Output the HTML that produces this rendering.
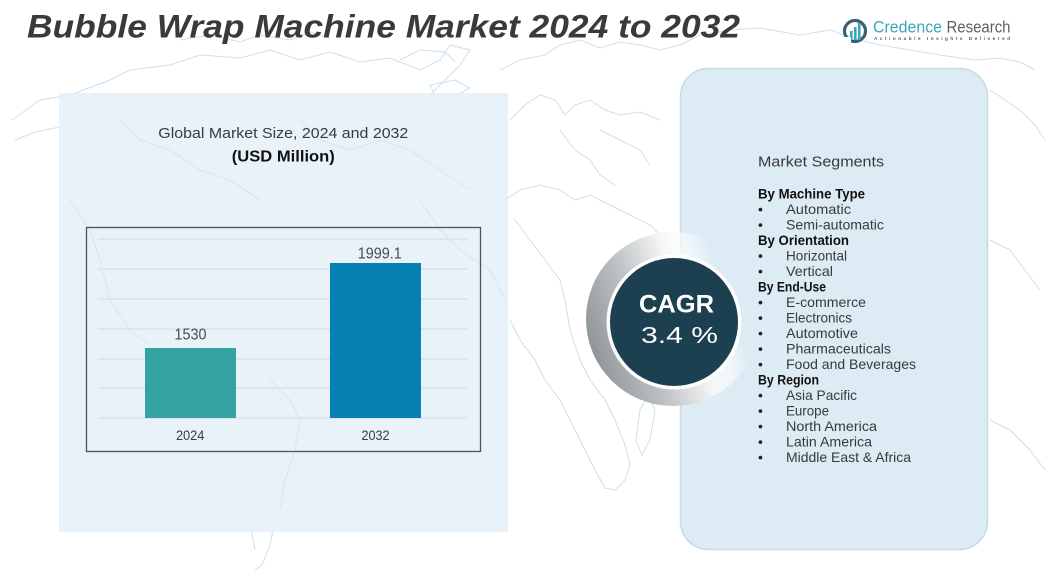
<!DOCTYPE html>
<html><head><meta charset="utf-8"><style>
html,body{margin:0;padding:0;background:#fff;}
svg{display:block;}
text{font-family:"Liberation Sans",Arial,sans-serif;}
</style></head><body>
<svg width="1045" height="585" viewBox="0 0 1045 585" xmlns="http://www.w3.org/2000/svg">
<defs>
<linearGradient id="ring" x1="0" y1="0.6" x2="1" y2="0.25">
<stop offset="0" stop-color="#8e9598"/>
<stop offset="0.3" stop-color="#c0c4c6"/>
<stop offset="0.55" stop-color="#f4f5f5"/>
<stop offset="0.68" stop-color="#ffffff" stop-opacity="0.6"/>
<stop offset="0.8" stop-color="#ffffff" stop-opacity="0"/>
</linearGradient>
</defs>
<rect width="1045" height="585" fill="#ffffff"/>
<!-- faint world map -->
<g fill="none" stroke="#c6dde8" stroke-width="1" opacity="0.9">
<path d="M12,120 L40,100 L70,95 L110,80 L130,70 L170,65 L200,55 L240,58 L270,50 L300,60 L330,52 L360,62 L390,58 L420,70 L440,60 L450,45 L470,50 L460,65 L445,80 L430,95 L415,110 L405,135 L390,150 L370,165 L345,185 L330,200 L320,220 L300,235 L285,250 L270,262 L255,255 L240,262 L230,280 L225,300 L240,320 L250,340"/>
<path d="M15,140 L35,132 L55,128 L75,122 L90,112"/>
<path d="M180,40 L210,35 L240,42 L260,35 L290,40 L310,32 L330,38"/>
<path d="M400,60 L420,50 L445,52 L455,62"/>
<path d="M430,85 L455,80 L470,88 L455,96 L435,95 Z"/>
<path d="M250,340 L270,360 L285,375 L300,380 L320,390 L330,410 L320,430 L305,445 L290,470 L280,495 L275,520 L270,545 L262,565 L255,570"/>
<path d="M240,365 L245,395 L240,430 L242,470 L248,510 L255,550"/>
<path d="M500,70 L520,60 L545,55 L560,45 L580,40 L600,48 L620,42 L640,45 L660,50 L680,45 L700,35 L730,30 L760,28 L800,35 L830,30 L860,40 L880,45 L910,50 L940,55 L975,60 L1000,58 L1020,62 L1035,70"/>
<path d="M510,120 L525,105 L540,95 L555,100 L565,115 L575,105 L590,100 L605,110 L620,115 L640,112 L660,120"/>
<path d="M505,200 L520,190 L540,185 L560,190 L575,200 L590,195 L610,205 L630,215 L650,225 L665,240 L675,260 L680,280"/>
<path d="M515,220 L530,240 L545,260 L560,280 L565,300 L570,330 L580,360 L590,380 L605,400 L615,420 L625,445 L630,465 L625,480 L615,490 L605,488 L595,470 L585,450 L575,430 L560,400 L545,380 L535,360 L520,340 L510,320"/>
<path d="M640,410 L648,395 L655,410 L650,440 L642,455 L636,440 Z"/>
<path d="M990,90 L1005,100 L1020,110 L1035,125 L1045,140"/>
<path d="M990,240 L1010,250 L1025,270 L1040,290"/>
<path d="M990,420 L1010,430 L1030,450 L1045,470"/>
<path d="M560,130 L575,150 L590,160 L600,175 L615,185"/>
<path d="M600,130 L620,140 L640,150 L650,165"/>
</g>
<!-- left panel -->
<rect x="59" y="93" width="449" height="439" fill="#e6f0f7" opacity="0.88"/>
<g fill="none" stroke="#d2e2ea" stroke-width="1" opacity="0.8">
<path d="M120,120 L140,140 L170,150 L200,170 L230,180 L260,200"/>
<path d="M300,120 L320,140 L350,150 L380,140 L410,150 L440,170 L470,190"/>
<path d="M270,380 L290,400 L300,420 L295,450 L285,480 L280,510"/>
<path d="M70,200 L90,230 L100,260 L110,300 L130,330 L150,345"/>
<path d="M420,200 L440,230 L460,250 L490,270 L505,300"/>
</g>
<!-- title -->
<text x="27" y="37.5" font-size="32" font-weight="bold" font-style="italic" fill="#3a3a3a" textLength="713" lengthAdjust="spacingAndGlyphs">Bubble Wrap Machine Market 2024 to 2032</text>
<!-- logo -->
<g>
<circle cx="855" cy="31" r="10.5" fill="none" stroke="#3d5f72" stroke-width="3.2"/>
<rect x="850" y="31" width="2.6" height="9" fill="#3aa6b9"/>
<rect x="854" y="27" width="2.6" height="13" fill="#3aa6b9"/>
<rect x="858" y="23" width="2.6" height="17" fill="#3aa6b9"/>
<rect x="843" y="37" width="8" height="5" fill="#ffffff"/>
<text x="873" y="32.5" font-size="16.5" fill="#3aa6b9" textLength="69" lengthAdjust="spacingAndGlyphs">Credence</text>
<text x="946.5" y="32.5" font-size="16.5" fill="#5a5f63" textLength="64" lengthAdjust="spacingAndGlyphs">Research</text>
<text x="874" y="40" font-size="4.6" font-weight="bold" fill="#555" textLength="136" lengthAdjust="spacing">Actionable Insights Delivered</text>
</g>
<!-- chart -->
<text x="283.3" y="138" font-size="14.8" fill="#3a3a3a" text-anchor="middle" textLength="250" lengthAdjust="spacingAndGlyphs">Global Market Size, 2024 and 2032</text>
<text x="283.3" y="161.5" font-size="16" font-weight="bold" fill="#111" text-anchor="middle" textLength="103" lengthAdjust="spacingAndGlyphs">(USD Million)</text>
<g stroke="#d6e0e6" stroke-width="1.2">
<line x1="98" y1="239" x2="467" y2="239"/>
<line x1="98" y1="269" x2="467" y2="269"/>
<line x1="98" y1="299" x2="467" y2="299"/>
<line x1="98" y1="329" x2="467" y2="329"/>
<line x1="98" y1="359" x2="467" y2="359"/>
<line x1="98" y1="388" x2="467" y2="388"/>
<line x1="98" y1="418" x2="467" y2="418"/>
</g>
<rect x="86.5" y="227.5" width="394" height="224" fill="none" stroke="#505459" stroke-width="1.3"/>
<rect x="145" y="348" width="91" height="70" fill="#36a3a3"/>
<rect x="330" y="263" width="91" height="155" fill="#0780b3"/>
<text x="190.5" y="339.3" font-size="16" fill="#4a4a4a" text-anchor="middle" textLength="32" lengthAdjust="spacingAndGlyphs">1530</text>
<text x="379.8" y="258.3" font-size="16" fill="#4a4a4a" text-anchor="middle" textLength="44" lengthAdjust="spacingAndGlyphs">1999.1</text>
<text x="190.2" y="440" font-size="13.5" fill="#3a3a3a" text-anchor="middle" textLength="28.5" lengthAdjust="spacingAndGlyphs">2024</text>
<text x="375.5" y="440" font-size="13.5" fill="#3a3a3a" text-anchor="middle" textLength="28" lengthAdjust="spacingAndGlyphs">2032</text>
<!-- right panel -->
<rect x="680.5" y="68.5" width="307" height="481" rx="28" ry="28" fill="#dcebf4" stroke="#c3dce8" stroke-width="1.5"/>
<!-- CAGR -->
<circle cx="673" cy="319" r="87" fill="url(#ring)"/>
<circle cx="674" cy="322" r="67.5" fill="#ffffff" opacity="0.95"/>
<circle cx="674" cy="322" r="64" fill="#1c4050"/>
<text x="676.5" y="312.7" font-size="25" font-weight="bold" fill="#ffffff" text-anchor="middle" textLength="75" lengthAdjust="spacingAndGlyphs">CAGR</text>
<text x="679.5" y="343" font-size="23" fill="#ffffff" text-anchor="middle" textLength="77" lengthAdjust="spacingAndGlyphs">3.4   %</text>
<!-- segments -->
<g fill="#3a3a3a" font-size="14">
<text x="758" y="166.7" font-size="15" textLength="126" lengthAdjust="spacingAndGlyphs">Market Segments</text>
<g font-weight="bold" fill="#111" font-size="14">
<text x="758" y="198.3" textLength="107" lengthAdjust="spacingAndGlyphs">By Machine Type</text>
<text x="758" y="245" textLength="91" lengthAdjust="spacingAndGlyphs">By  Orientation</text>
<text x="758" y="291.5" textLength="68" lengthAdjust="spacingAndGlyphs">By End-Use</text>
<text x="758" y="384.5" textLength="61" lengthAdjust="spacingAndGlyphs">By Region</text>
</g>
<g fill="#222">
<text x="758" y="214">•</text><text x="758" y="229.5">•</text>
<text x="758" y="260.5">•</text><text x="758" y="276">•</text>
<text x="758" y="307">•</text><text x="758" y="322.5">•</text><text x="758" y="338">•</text><text x="758" y="353.5">•</text><text x="758" y="369">•</text>
<text x="758" y="400">•</text><text x="758" y="415.5">•</text><text x="758" y="431">•</text><text x="758" y="446.5">•</text><text x="758" y="462">•</text>
</g>
<text x="786" y="214" textLength="65" lengthAdjust="spacingAndGlyphs">Automatic</text>
<text x="786" y="229.5" textLength="98" lengthAdjust="spacingAndGlyphs">Semi-automatic</text>
<text x="786" y="260.5" textLength="61" lengthAdjust="spacingAndGlyphs">Horizontal</text>
<text x="786" y="276" textLength="47" lengthAdjust="spacingAndGlyphs">Vertical</text>
<text x="786" y="307" textLength="80" lengthAdjust="spacingAndGlyphs">E-commerce</text>
<text x="786" y="322.5" textLength="66" lengthAdjust="spacingAndGlyphs">Electronics</text>
<text x="786" y="338" textLength="72" lengthAdjust="spacingAndGlyphs">Automotive</text>
<text x="786" y="353.5" textLength="105" lengthAdjust="spacingAndGlyphs">Pharmaceuticals</text>
<text x="786" y="369" textLength="130" lengthAdjust="spacingAndGlyphs">Food and Beverages</text>
<text x="786" y="400" textLength="71" lengthAdjust="spacingAndGlyphs">Asia Pacific</text>
<text x="786" y="415.5" textLength="43" lengthAdjust="spacingAndGlyphs">Europe</text>
<text x="786" y="431" textLength="91" lengthAdjust="spacingAndGlyphs">North America</text>
<text x="786" y="446.5" textLength="86" lengthAdjust="spacingAndGlyphs">Latin America</text>
<text x="786" y="462" textLength="125" lengthAdjust="spacingAndGlyphs">Middle East &amp; Africa</text>
</g>
</svg>
</body></html>
